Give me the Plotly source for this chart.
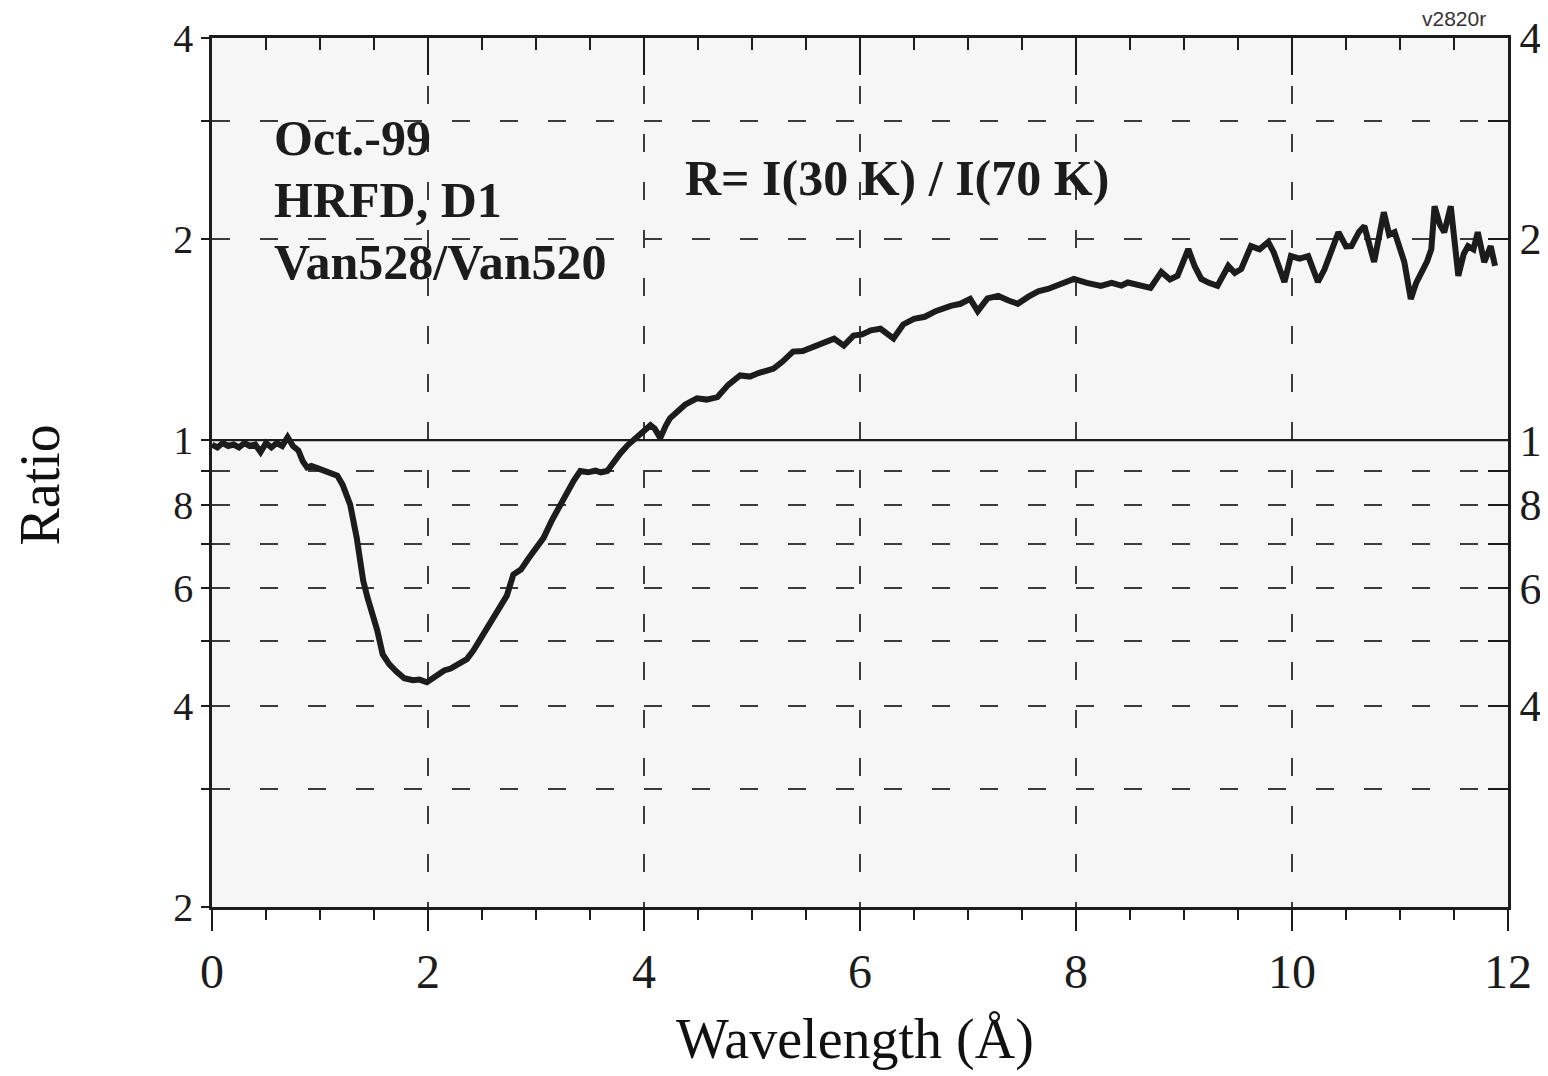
import plotly.graph_objects as go
import math

# ---- data ----
wavelength = [0.00, 0.05, 0.10, 0.15, 0.20, 0.25, 0.30, 0.35, 0.40, 0.45, 0.50, 0.55, 0.60, 0.65, 0.70,
              0.75, 0.80, 0.84, 0.88, 0.92, 1.00, 1.08, 1.16, 1.21, 1.28, 1.34, 1.40, 1.44, 1.49, 1.53,
              1.58, 1.64, 1.71, 1.78, 1.86, 1.92, 1.99, 2.04, 2.09, 2.15, 2.21, 2.28, 2.36, 2.42, 2.48,
              2.54, 2.60, 2.67, 2.73, 2.79, 2.86, 2.93, 3.00, 3.07, 3.15, 3.22, 3.29, 3.35, 3.41, 3.48,
              3.55, 3.60, 3.66, 3.72, 3.78, 3.85, 3.90, 3.95, 4.03, 4.06, 4.10, 4.15, 4.20, 4.24, 4.30,
              4.38, 4.49, 4.58, 4.68, 4.78, 4.89, 4.98, 5.06, 5.13, 5.20, 5.28, 5.38, 5.47, 5.56, 5.66,
              5.76, 5.85, 5.94, 6.02, 6.10, 6.19, 6.31, 6.40, 6.50, 6.60, 6.70, 6.84, 6.93, 7.02, 7.09,
              7.18, 7.28, 7.37, 7.46, 7.56, 7.65, 7.74, 7.85, 7.98, 8.10, 8.23, 8.33, 8.42, 8.48, 8.58,
              8.69, 8.79, 8.87, 8.94, 9.04, 9.10, 9.16, 9.23, 9.31, 9.41, 9.47, 9.53, 9.62, 9.70, 9.78,
              9.83, 9.93, 9.99, 10.07, 10.15, 10.24, 10.30, 10.36, 10.43, 10.50, 10.55, 10.62, 10.67, 10.76, 10.85,
              10.90, 10.95, 11.04, 11.10, 11.15, 11.20, 11.25, 11.29, 11.32, 11.37, 11.41, 11.47, 11.54, 11.59, 11.63,
              11.68, 11.72, 11.78, 11.84, 11.88]
ratio = [0.985, 0.975, 0.990, 0.980, 0.985, 0.975, 0.990, 0.980, 0.985, 0.960, 0.990, 0.975, 0.990, 0.980, 1.010,
         0.980, 0.965, 0.930, 0.910, 0.915, 0.905, 0.895, 0.885, 0.857, 0.800, 0.714, 0.616, 0.581, 0.548, 0.519,
         0.478, 0.462, 0.450, 0.440, 0.437, 0.438, 0.434, 0.440, 0.446, 0.452, 0.455, 0.462, 0.470, 0.484, 0.502,
         0.520, 0.543, 0.565, 0.585, 0.629, 0.640, 0.665, 0.690, 0.714, 0.760, 0.800, 0.839, 0.870, 0.899, 0.895,
         0.900, 0.895, 0.899, 0.930, 0.955, 0.983, 1.000, 1.020, 1.042, 1.053, 1.040, 1.007, 1.050, 1.078, 1.100,
         1.130, 1.155, 1.150, 1.160, 1.210, 1.250, 1.245, 1.260, 1.270, 1.280, 1.310, 1.357, 1.360, 1.380, 1.400,
         1.419, 1.385, 1.434, 1.440, 1.460, 1.468, 1.420, 1.490, 1.519, 1.530, 1.560, 1.589, 1.600, 1.627, 1.560,
         1.630, 1.644, 1.620, 1.600, 1.640, 1.670, 1.684, 1.710, 1.743, 1.720, 1.702, 1.720, 1.704, 1.722, 1.710,
         1.690, 1.786, 1.740, 1.762, 1.932, 1.820, 1.743, 1.720, 1.702, 1.823, 1.780, 1.804, 1.952, 1.930, 1.980,
         1.912, 1.725, 1.886, 1.870, 1.886, 1.725, 1.800, 1.912, 2.048, 1.950, 1.952, 2.050, 2.091, 1.848, 2.194,
         2.030, 2.048, 1.848, 1.627, 1.720, 1.786, 1.850, 1.932, 2.239, 2.100, 2.048, 2.239, 1.762, 1.900, 1.952,
         1.930, 2.048, 1.848, 1.952, 1.823]

x_range = [0, 12]
y_range = [0.2, 4]
x_major = [0, 2, 4, 6, 8, 10, 12]
x_labels = ["0", "2", "4", "6", "8", "10", "12"]
y_ticks = [0.2, 0.3, 0.4, 0.5, 0.6, 0.7, 0.8, 0.9, 1, 2, 3, 4]
y_labels_left = ["2", "", "4", "", "6", "", "8", "", "1", "2", "", "4"]
y_labels_right = ["", "", "4", "", "6", "", "8", "", "1", "2", "", "4"]
ref_x = [0, 12]
ref_y = [1, 1]

SERIF = "Liberation Serif, Times New Roman, serif"
INK = "#1c1c1c"
GRID = "#3a3a3a"

fig = go.Figure()
fig.add_trace(go.Scatter(x=wavelength, y=ratio, mode="lines",
                         line=dict(color=INK, width=6), xaxis="x", yaxis="y",
                         showlegend=False, hoverinfo="skip"))
fig.add_trace(go.Scatter(x=ref_x, y=ref_y, mode="lines",
                         line=dict(color=INK, width=2.2), xaxis="x2", yaxis="y2",
                         showlegend=False, hoverinfo="skip"))

ylog = [math.log10(y_range[0]), math.log10(y_range[1])]

# the page body has an 8px default margin, so the figure is sized to fit inside it
fig.update_layout(
    template="none",
    width=1540, height=1068,
    margin=dict(l=204, r=40, t=30, b=169, autoexpand=False),
    paper_bgcolor="white",
    plot_bgcolor="#f6f6f6",
    font=dict(family=SERIF, color=INK),
    xaxis=dict(range=x_range, tickvals=x_major, ticktext=x_labels, automargin=False,
               ticks="outside", ticklen=21, tickwidth=2, tickcolor=INK,
               minor=dict(dtick=0.5, ticks="outside", ticklen=10, tickwidth=2,
                          tickcolor=INK, showgrid=False),
               showline=True, linecolor=INK, linewidth=2.5,
               showgrid=True, gridcolor=GRID, gridwidth=2, griddash="18px,30px",
               zeroline=False, tickfont=dict(size=48, family=SERIF, color=INK),
               ticklabelstandoff=0),
    xaxis2=dict(range=x_range, overlaying="x", side="top", anchor="y2", automargin=False,
                tickvals=x_major, showticklabels=False,
                ticks="inside", ticklen=37, tickwidth=2, tickcolor=INK,
                minor=dict(dtick=0.5, ticks="inside", ticklen=12, tickwidth=2,
                           tickcolor=INK, showgrid=False),
                showline=True, linecolor=INK, linewidth=2.5,
                showgrid=False, zeroline=False),
    yaxis=dict(type="log", range=ylog, tickvals=y_ticks, ticktext=y_labels_left, automargin=False,
               ticks="outside", ticklen=8, tickwidth=2, tickcolor=INK,
               showline=True, linecolor=INK, linewidth=2.5,
               showgrid=True, gridcolor=GRID, gridwidth=2, griddash="18px,30px",
               zeroline=False, tickfont=dict(size=40, family=SERIF, color=INK),
               ticklabelstandoff=0),
    yaxis2=dict(type="log", range=ylog, overlaying="y", side="right", anchor="x2", automargin=False,
                tickvals=y_ticks, ticktext=y_labels_right,
                ticks="inside", ticklen=20, tickwidth=2, tickcolor=INK,
                showline=True, linecolor=INK, linewidth=2.5,
                showgrid=False, zeroline=False,
                tickfont=dict(size=44, family=SERIF, color=INK)),
)

ann = [
    dict(text="Oct.-99", x=0.0463, y=0.885, size=50, bold=True),
    dict(text="HRFD, D1", x=0.0463, y=0.8136, size=50, bold=True),
    dict(text="Van528/Van520", x=0.0463, y=0.742, size=50, bold=True),
    dict(text="R= I(30 K) / I(70 K)", x=0.3634, y=0.839, size=50, bold=True),
]
for a in ann:
    fig.add_annotation(text=f"<b>{a['text']}</b>" if a["bold"] else a["text"],
                       xref="paper", yref="paper", x=a["x"], y=a["y"],
                       xanchor="left", yanchor="middle", showarrow=False,
                       font=dict(size=a["size"], family=SERIF, color=INK))

fig.add_annotation(text="v2820r", xref="paper", yref="paper", x=0.958, y=1.0,
                   xanchor="center", yanchor="bottom", yshift=6, showarrow=False,
                   font=dict(size=21, family="Liberation Sans, Arial, sans-serif", color="#333"))
fig.add_annotation(text="Ratio", xref="paper", yref="paper", x=-0.1327, y=0.485,
                   xanchor="center", yanchor="middle", textangle=-90, showarrow=False,
                   font=dict(size=56, family=SERIF, color="#111"))
fig.add_annotation(text="Wavelength (Å)", xref="paper", yref="paper", x=0.496, y=-0.152,
                   xanchor="center", yanchor="middle", showarrow=False,
                   font=dict(size=56, family=SERIF, color="#111"))

fig.write_html("out.html")
